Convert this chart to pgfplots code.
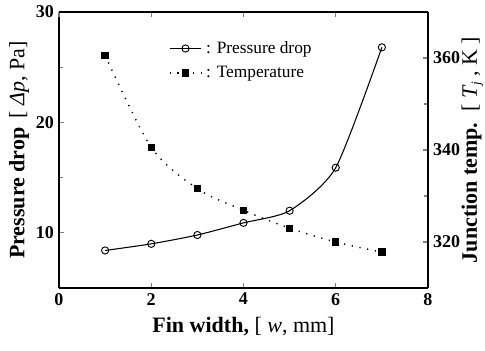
\documentclass[border=0pt]{standalone}
\usepackage{pgfplots}
\pgfplotsset{compat=1.18}
\usepackage{fontspec}
\setmainfont{Liberation Serif}
\begin{document}
\begin{tikzpicture}
\pgfplotsset{
  common/.style={
    width=276.75pt, height=207pt, scale only axis,
    xmin=0, xmax=8,
    xtick={0,2,4,6,8},
    tick align=inside,
    major tick length=4pt, minor tick length=3pt,
    line width=1pt,
    tick style={line width=0.8pt},
    ticklabel style={font=\fontsize{13.5}{15}\selectfont\bfseries},
    /pgf/number format/assume math mode=true,
    label style={font=\fontsize{16.5}{19}\selectfont},
  }
}
\begin{axis}[common, name=ax,
  ymin=5, ymax=30,
  ytick={10,20,30},
  minor ytick={15,25},
  axis y line*=left,
  axis x line*=bottom,
  xlabel={\textbf{Fin width,} [ \textit{w}, mm]},
  ylabel={\textbf{Pressure drop}\, [ \textit{Δp}, Pa]},
  xlabel style={yshift=-2pt},
  ylabel style={yshift=-2pt},
]
\addplot[black, line width=0.8pt, smooth, tension=0.4, mark=o, mark size=2.7pt, mark options={fill=white, line width=0.7pt}]
coordinates {(1,8.4) (2,9.0) (3,9.8) (4,10.9) (5,12.0) (6,15.9) (7,26.8)};
\end{axis}
\begin{axis}[common,
  ymin=310, ymax=370,
  ytick={320,340,360},
  minor ytick={330,350},
  axis y line*=right,
  axis x line*=top,
  xticklabels={},
  ylabel={\textbf{Junction temp.}\, [ \textit{T}\kern-0.5pt\raisebox{-0.35ex}{\fontsize{10}{10}\selectfont\textit{j}} , K ]},
  ylabel style={yshift=6pt},
  legend style={draw=none, fill=none, at={(0.285,0.915)}, anchor=north west,
    font=\fontsize{13}{16}\selectfont, row sep=4pt,
    /tikz/every even column/.append style={column sep=0pt}},
  legend cell align=left,
  legend image code/.code={\draw[mark repeat=2,mark phase=2,#1] plot coordinates {(0cm,0cm) (0.42cm,0cm) (0.84cm,0cm)};},
]
\addlegendimage{black, line width=0.8pt, mark=o, mark size=2.7pt, mark options={fill=white, line width=0.7pt}}
\addlegendentry{\hspace{1pt}: Pressure drop}
\addplot[black, line width=1.1pt, dash pattern=on 0.9pt off 5pt, smooth, tension=0.5, mark=square*, mark size=2.2pt, mark options={solid}]
coordinates {(1,360.6) (2,340.6) (3,331.6) (4,326.9) (5,323.0) (6,320.0) (7,317.8)};
\addlegendentry{\hspace{1pt}: Temperature}
\end{axis}
\pgfresetboundingbox
\path[use as bounding box] (ax.south west) ++(-44.25pt,-46.5pt) rectangle ([xshift=42.75pt,yshift=9pt]ax.north east);
\end{tikzpicture}
\end{document}
